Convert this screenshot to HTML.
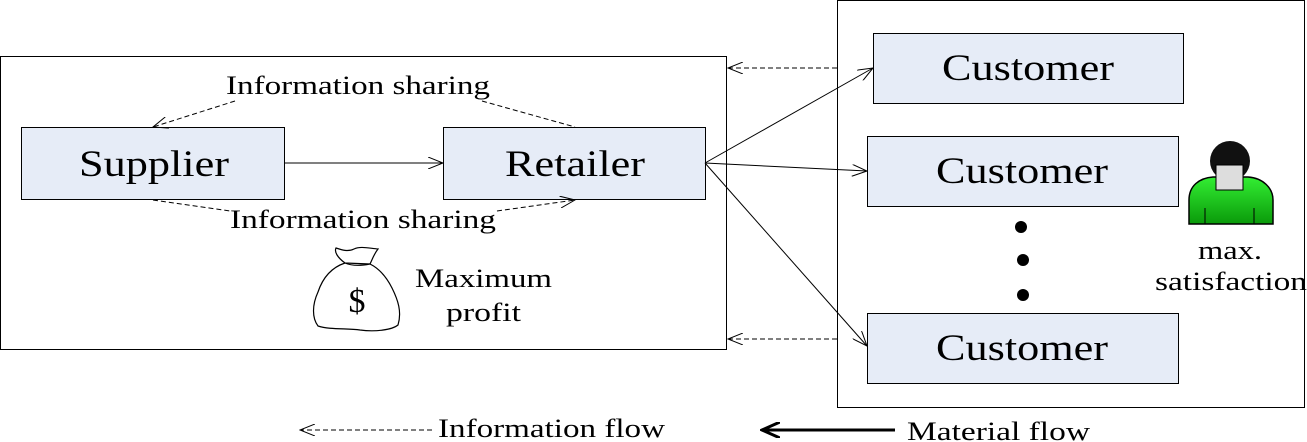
<!DOCTYPE html>
<html><head><style>html,body{margin:0;padding:0;background:#fff;}svg{display:block}</style></head>
<body>
<svg width="1307" height="442" viewBox="0 0 1307 442" xmlns="http://www.w3.org/2000/svg" font-family="Liberation Serif, serif">
<defs>
<marker id="oa" markerWidth="16" markerHeight="12" refX="15" refY="6" orient="auto" markerUnits="userSpaceOnUse">
<path d="M0,0 L15,6 L0,12" fill="none" stroke="#000" stroke-width="1"/></marker>
<marker id="oa2" markerWidth="20" markerHeight="16" refX="18" refY="8" orient="auto" markerUnits="userSpaceOnUse">
<path d="M0,0 L18,8 L0,16" fill="none" stroke="#000" stroke-width="3"/></marker>
<linearGradient id="g" x1="0" y1="0" x2="0" y2="1"><stop offset="0" stop-color="#33ee33"/><stop offset="1" stop-color="#0a9a0a"/></linearGradient>
</defs>
<rect x="0.5" y="56.5" width="726" height="293" fill="#fff" stroke="#000"/>
<rect x="837.5" y="0.5" width="467" height="407" fill="#fff" stroke="#000"/>
<g fill="#e6ecf7" stroke="#000" stroke-width="1">
<rect x="21.5" y="127.5" width="263" height="72"/>
<rect x="443.5" y="127.5" width="262" height="72"/>
<rect x="873.5" y="33.5" width="310" height="70"/>
<rect x="867.5" y="136.5" width="311" height="70"/>
<rect x="867.5" y="313.5" width="311" height="70"/>
</g>
<g font-size="37" text-anchor="middle">
<text x="154" y="176" textLength="150" lengthAdjust="spacingAndGlyphs">Supplier</text>
<text x="575" y="176" textLength="140" lengthAdjust="spacingAndGlyphs">Retailer</text>
<text x="1028" y="80" textLength="172" lengthAdjust="spacingAndGlyphs">Customer</text>
<text x="1022" y="183" textLength="172" lengthAdjust="spacingAndGlyphs">Customer</text>
<text x="1022" y="360" textLength="172" lengthAdjust="spacingAndGlyphs">Customer</text>
</g>
<g stroke="#000" stroke-width="1" fill="none">
<line x1="285" y1="163" x2="443" y2="163" marker-end="url(#oa)"/>
<line x1="705" y1="163" x2="873" y2="68" marker-end="url(#oa)"/>
<line x1="705" y1="163" x2="867" y2="171" marker-end="url(#oa)"/>
<line x1="705" y1="163" x2="867" y2="346" marker-end="url(#oa)"/>
</g>
<g stroke="#000" stroke-width="1" fill="none" stroke-dasharray="5,3">
<line x1="837" y1="68" x2="728" y2="68" marker-end="url(#oa)"/>
<line x1="837" y1="339" x2="728" y2="339" marker-end="url(#oa)"/>
<line x1="235" y1="101" x2="153" y2="127" marker-end="url(#oa)"/>
<line x1="482" y1="101" x2="575" y2="127"/>
<line x1="153" y1="200" x2="230" y2="211"/>
<line x1="497" y1="211" x2="575" y2="200" marker-end="url(#oa)"/>
<line x1="432" y1="430" x2="300" y2="430" marker-end="url(#oa)"/>
</g>
<line x1="895" y1="430" x2="762" y2="430" stroke="#000" stroke-width="3" marker-end="url(#oa2)"/>
<g font-size="26">
<text x="226" y="94" textLength="264" lengthAdjust="spacingAndGlyphs">Information sharing</text>
<text x="230" y="228" textLength="266" lengthAdjust="spacingAndGlyphs">Information sharing</text>
<text x="415" y="287" textLength="137" lengthAdjust="spacingAndGlyphs">Maximum</text>
<text x="446" y="321" textLength="75" lengthAdjust="spacingAndGlyphs">profit</text>
<text x="438" y="437" textLength="227" lengthAdjust="spacingAndGlyphs">Information flow</text>
<text x="907" y="440" textLength="183" lengthAdjust="spacingAndGlyphs">Material flow</text>
<text x="1198" y="259" textLength="64" lengthAdjust="spacingAndGlyphs">max.</text>
<text x="1155" y="290" textLength="152" lengthAdjust="spacingAndGlyphs">satisfaction</text>
</g>
<!-- money bag -->
<g fill="#fff" stroke="#000" stroke-width="1.2">
<path d="M345,263 C338,258 334,252 336,248 C342,250 348,252 354,249 C360,246 368,248 378,249 C374,254 372,260 370,264 Z"/>
<path d="M345,263 C330,268 322,280 318,292 C312,305 312,318 318,326 C330,330 348,328 360,330 C375,332 392,330 398,325 C402,312 398,300 392,288 C386,276 378,268 370,264 C360,266 352,266 345,263 Z"/>
</g>
<text x="357" y="312" font-size="34" text-anchor="middle">$</text>
<!-- dots -->
<g fill="#000"><circle cx="1021" cy="227" r="6"/><circle cx="1023" cy="260" r="6"/><circle cx="1023" cy="295" r="6"/></g>
<!-- person -->
<path d="M1189,224 L1189,200 C1189,186 1199,178 1213,177 L1248,177 C1263,178 1273,188 1273,200 L1273,224 Z" fill="url(#g)" stroke="#000" stroke-width="1.5"/>
<line x1="1205" y1="208" x2="1205" y2="224" stroke="#000"/><line x1="1254" y1="208" x2="1254" y2="224" stroke="#000"/>
<circle cx="1230" cy="161" r="20" fill="#111"/>
<path d="M1216,165 L1243,165 L1243,190 L1216,190 Z" fill="#ddd" stroke="#000"/>
</svg>
</body></html>
